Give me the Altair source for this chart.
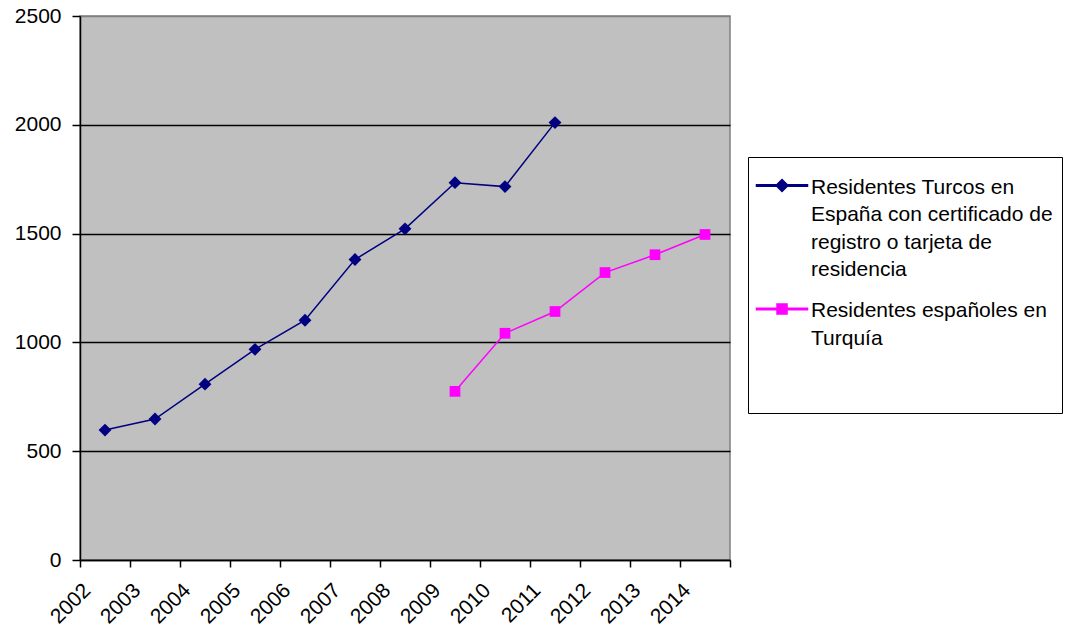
import altair as alt
import pandas as pd

years = [str(y) for y in range(2002, 2015)]

S1 = "Residentes Turcos en España con certificado de registro o tarjeta de residencia"
S2 = "Residentes españoles en Turquía"

turcos_years = ["2002", "2003", "2004", "2005", "2006", "2007", "2008", "2009", "2010", "2011"]
turcos_vals = [597, 648, 808, 968, 1102, 1381, 1522, 1734, 1716, 2010]

esp_years = ["2009", "2010", "2011", "2012", "2013", "2014"]
esp_vals = [775, 1042, 1142, 1321, 1403, 1496]

y_ticks = [0, 500, 1000, 1500, 2000, 2500]

df = pd.concat([
    pd.DataFrame({"year": turcos_years, "value": turcos_vals, "serie": S1}),
    pd.DataFrame({"year": esp_years, "value": esp_vals, "serie": S2}),
])

FONT = "Liberation Sans"
FS = 21
NBSP = "\u00a0" * 8

label_expr = (
    f"datum.label == '{S1}' ? ['Residentes Turcos en','España con certificado de{NBSP}',"
    f"'registro o tarjeta de','residencia'] : ['Residentes españoles en','Turquía','','']"
)

# legend symbols: horizontal line with marker in the middle (filled shapes)
diamond_path = "M-1.375,1.03H5.0V1.22H-1.375Z M1.815,0.375L2.565,1.125L1.815,1.875L1.065,1.125Z"
square_path = "M-1.375,1.03H5.0V1.22H-1.375Z M1.19,0.5H2.44V1.75H1.19Z"

legend = alt.Legend(
    title=None,
    orient="none",
    legendX=668,
    legendY=141,
    strokeColor="black",
    fillColor="white",
    padding=9,
    labelFont=FONT,
    labelFontSize=FS,
    labelColor="black",
    labelLimit=600,
    labelOffset=33,
    labelBaseline="top",
    rowPadding=9.5,
    symbolSize=256,
    symbolOpacity=1,
    labelExpr=label_expr,
)

color_scale = alt.Scale(domain=[S1, S2], range=["#000080", "#FF00FF"])

x = alt.X(
    "year:O",
    scale=alt.Scale(type="band", domain=years, paddingInner=0, paddingOuter=0),
    bandPosition=0.5,
    axis=alt.Axis(
        title=None,
        labelAngle=-45,
        labelAlign="right",
        labelBaseline="middle",
        labelOffset=-18,
        labelPadding=20,
        tickBand="extent",
        tickSize=7,
        tickColor="black",
        tickWidth=1.5,
        domainColor="black",
        domainWidth=1.5,
        labelFont=FONT,
        labelFontSize=FS,
        labelColor="black",
        grid=False,
    ),
)

y = alt.Y(
    "value:Q",
    scale=alt.Scale(domain=[0, 2500], nice=False),
    axis=alt.Axis(
        title=None,
        values=y_ticks,
        format="d",
        tickSize=8,
        tickColor="black",
        tickWidth=1.5,
        domainColor="black",
        domainWidth=1.5,
        labelFont=FONT,
        labelFontSize=FS,
        labelColor="black",
        labelPadding=11,
        grid=True,
        gridColor={"condition": {"test": "datum.value === 2500", "value": "#808080"}, "value": "black"},
        gridWidth=1.3,
        gridOpacity=1,
    ),
)

base = alt.Chart(df)

lines = base.mark_line(strokeWidth=1.5).encode(
    x=x, y=y, color=alt.Color("serie:N", scale=color_scale, legend=legend), detail="serie:N"
)

# invisible layer carrying the legend symbols
legend_pts = base.mark_point(filled=True, opacity=0).encode(
    x=x,
    y=y,
    color=alt.Color("serie:N", scale=color_scale, legend=legend),
    shape=alt.Shape("serie:N", scale=alt.Scale(domain=[S1, S2], range=[diamond_path, square_path]), legend=legend),
)

diam = base.transform_filter(alt.datum.serie == S1).mark_point(
    filled=True, opacity=1, shape="diamond", size=165
).encode(x=x, y=y, color=alt.Color("serie:N", scale=color_scale, legend=legend))

sq = base.transform_filter(alt.datum.serie == S2).mark_point(
    filled=True, opacity=1, shape="square", size=115
).encode(x=x, y=y, color=alt.Color("serie:N", scale=color_scale, legend=legend))

chart = (
    alt.layer(lines, legend_pts, diam, sq)
    .properties(
        width=650,
        height=544,
        autosize=alt.AutoSizeParams(type="none"),
        padding={"left": 72, "top": 8, "right": 350, "bottom": 68},
    )
    .configure(
        font=FONT,
        background="white",
        style={
            "guide-label": {"lineHeight": 27.5},
            "cell": {"fill": "#C0C0C0", "stroke": "#808080", "strokeWidth": 1.5},
        },
    )
)

chart.save("out.html", embed_options={"renderer": "svg", "actions": False})
